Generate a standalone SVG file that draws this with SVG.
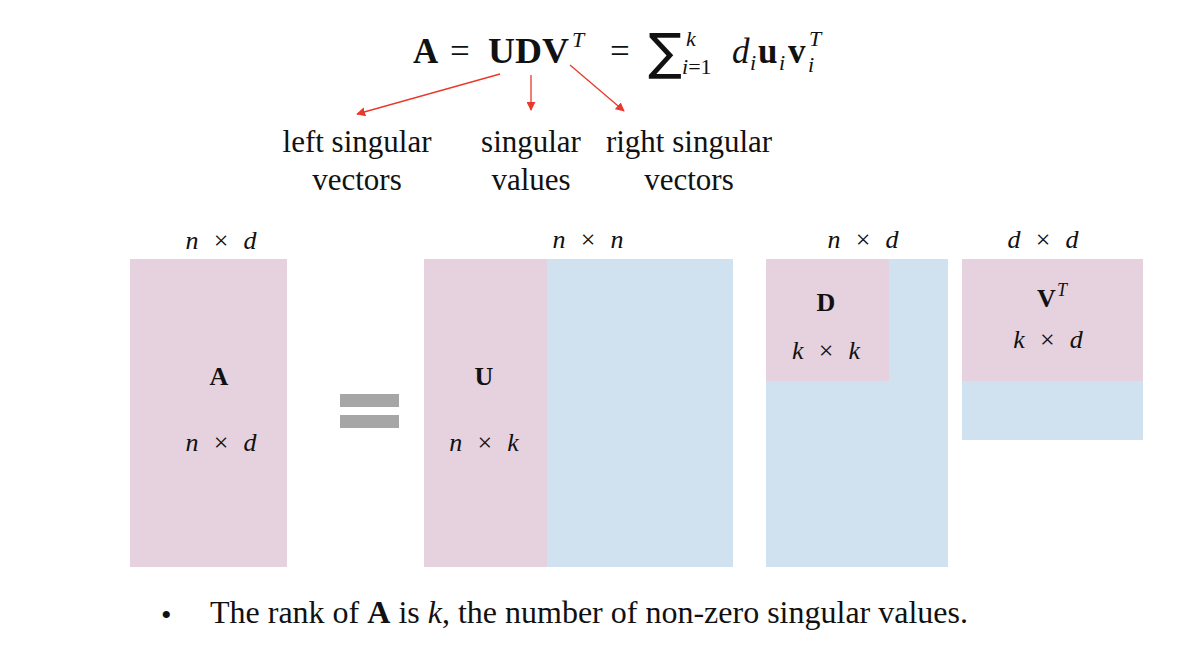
<svg xmlns="http://www.w3.org/2000/svg" width="1194" height="646" viewBox="0 0 1194 646">
<defs>
<marker id="ah" viewBox="0 0 10 10" refX="9" refY="5" markerWidth="9" markerHeight="9" markerUnits="userSpaceOnUse" orient="auto">
<path d="M0,0 L10,5 L0,10 z" fill="#e8392b"/>
</marker>
<style>
.pink{fill:#e5d2de}
.blue{fill:#d0e1f0}
.bar{fill:#a6a6a6}
.t{font-family:"Liberation Serif","DejaVu Serif",serif;fill:#111}
.lbl{font-size:31px}
.dim{font-size:26px;font-style:italic;word-spacing:8.6px}
.x{font-style:normal}
.b{font-weight:bold}
.i{font-style:italic}
.big{font-size:35px}
.sub{font-size:22px;font-style:italic}
.arr{stroke:#e8392b;stroke-width:1.3;fill:none;marker-end:url(#ah)}
</style>
</defs>
<rect width="1194" height="646" fill="#fff"/>

<g id="equation" class="t">
<text class="big b" x="413" y="63">A</text>
<text class="big" x="450" y="63" font-size="38">=</text>
<text class="big b" x="488" y="63" textLength="81" lengthAdjust="spacingAndGlyphs">UDV</text>
<text class="sub" x="572" y="47" font-size="24">T</text>
<text class="big" x="610" y="63" font-size="38">=</text>
<text x="648" y="69" font-family="DejaVu Sans, sans-serif" font-size="50" fill="#111">∑</text>
<text class="sub" x="686" y="46">k</text>
<text class="sub" x="682" y="74" font-size="24"><tspan class="i">i</tspan><tspan font-style="normal">=1</tspan></text>
<text class="big i" x="732" y="63">d</text>
<text class="sub" x="750" y="70">i</text>
<text class="big b" x="758" y="63">u</text>
<text class="sub" x="779" y="70">i</text>
<text class="big b" x="788" y="63">v</text>
<text class="sub" x="809" y="46" font-size="24">T</text>
<text class="sub" x="808" y="72">i</text>
</g>

<g id="connectors">
<line class="arr" x1="500" y1="74" x2="357" y2="114"/>
<line class="arr" x1="531" y1="75" x2="531" y2="110"/>
<line class="arr" x1="570" y1="65" x2="624" y2="111"/>
</g>

<g id="label-left">
<text class="t lbl" x="357" y="152" text-anchor="middle">left singular</text>
<text class="t lbl" x="357" y="190" text-anchor="middle">vectors</text>
</g>
<g id="label-values">
<text class="t lbl" x="531" y="152" text-anchor="middle">singular</text>
<text class="t lbl" x="531" y="190" text-anchor="middle">values</text>
</g>
<g id="label-right">
<text class="t lbl" x="689" y="152" text-anchor="middle">right singular</text>
<text class="t lbl" x="689" y="190" text-anchor="middle">vectors</text>
</g>

<g id="matrix-A">
<text class="t dim" x="221" y="249" text-anchor="middle">n <tspan class="x">×</tspan> d</text>
<rect class="pink" x="130" y="259" width="157" height="308"/>
<text class="t b" x="219" y="385" font-size="26" text-anchor="middle">A</text>
<text class="t dim" x="221" y="451" text-anchor="middle">n <tspan class="x">×</tspan> d</text>
</g>

<g id="equals">
<rect class="bar" x="340" y="394" width="59" height="13"/>
<rect class="bar" x="340" y="415" width="59" height="13"/>
</g>

<g id="matrix-U">
<text class="t dim" x="588" y="248" text-anchor="middle">n <tspan class="x">×</tspan> n</text>
<rect class="blue" x="547" y="259" width="186" height="308"/>
<rect class="pink" x="424" y="259" width="123" height="308"/>
<text class="t b" x="484" y="385" font-size="26" text-anchor="middle">U</text>
<text class="t dim" x="484" y="451" text-anchor="middle">n <tspan class="x">×</tspan> k</text>
</g>

<g id="matrix-D">
<text class="t dim" x="863" y="248" text-anchor="middle">n <tspan class="x">×</tspan> d</text>
<rect class="blue" x="766" y="259" width="182" height="308"/>
<rect class="pink" x="766" y="259" width="123" height="122"/>
<text class="t b" x="826" y="311" font-size="26" text-anchor="middle">D</text>
<text class="t dim" x="826" y="359" text-anchor="middle">k <tspan class="x">×</tspan> k</text>
</g>

<g id="matrix-VT">
<text class="t dim" x="1043" y="248" text-anchor="middle">d <tspan class="x">×</tspan> d</text>
<rect class="blue" x="962" y="259" width="181" height="181"/>
<rect class="pink" x="962" y="259" width="181" height="122"/>
<text class="t b" x="1037" y="307" font-size="26">V</text>
<text class="t i" x="1057" y="296" font-size="18">T</text>
<text class="t dim" x="1048" y="348" text-anchor="middle">k <tspan class="x">×</tspan> d</text>
</g>

<g id="bullet">
<text class="t" x="161" y="625" font-size="30">•</text>
<text class="t" x="210" y="623" font-size="32">The rank of <tspan class="b">A</tspan> is <tspan class="i">k</tspan>, the number of non-zero singular values.</text>
</g>
</svg>
